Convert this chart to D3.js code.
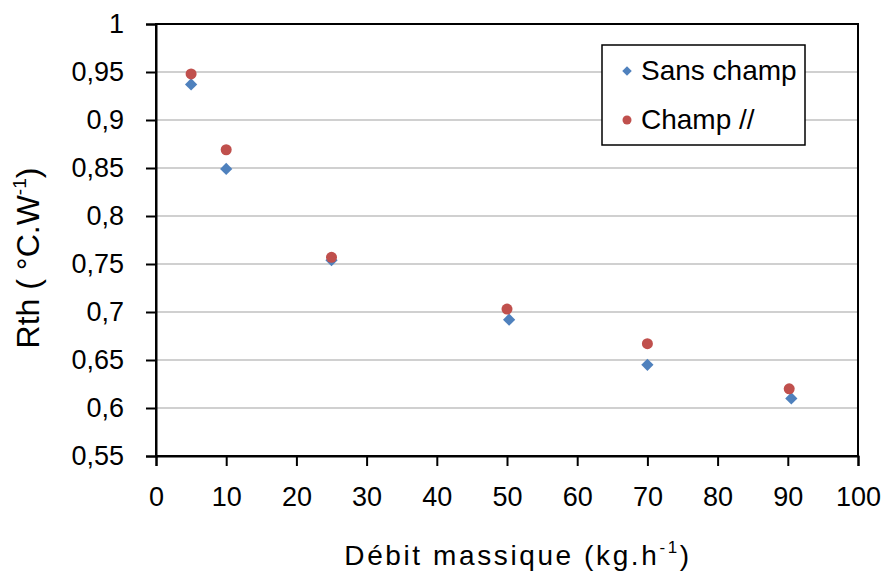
<!DOCTYPE html>
<html>
<head>
<meta charset="utf-8">
<script src="https://cdn.jsdelivr.net/npm/d3@7"></script>
<style>
  html, body { margin: 0; padding: 0; background: #fff; }
  svg { display: block; font-family: "Liberation Sans", Arial, sans-serif; }
</style>
</head>
<body>
<svg id="chart" width="886" height="573"></svg>
<script>
// Thermal resistance vs. mass flow rate
const sansChampX = [5, 10, 25, 50.3, 70, 90.5];
const sansChampY = [0.937, 0.849, 0.754, 0.692, 0.645, 0.610];
const champX = [5, 10, 25, 50, 70, 90.2];
const champY = [0.948, 0.869, 0.757, 0.703, 0.667, 0.620];

const xTicks = [0, 10, 20, 30, 40, 50, 60, 70, 80, 90, 100];
const yTicks = [0.55, 0.6, 0.65, 0.7, 0.75, 0.8, 0.85, 0.9, 0.95, 1];

const seriesNames = ["Sans champ", "Champ //"];
const blue = "#4f81bd", red = "#c0504d";

const svg = d3.select("#chart");
const plotLeft = 156, plotRight = 858, plotTop = 24, plotBottom = 456;

const x = d3.scaleLinear().domain([0, 100]).range([plotLeft, plotRight]);
const y = d3.scaleLinear().domain([0.55, 1]).range([plotBottom, plotTop]);

const fmt = v => String(+v.toFixed(2)).replace(".", ",");

// horizontal gridlines
svg.append("g").selectAll("line").data(yTicks.slice(1, -1)).join("line")
  .attr("x1", plotLeft).attr("x2", plotRight)
  .attr("y1", d => y(d)).attr("y2", d => y(d))
  .attr("stroke", "#c0c0c0").attr("stroke-width", 1.5);

// plot frame
svg.append("rect")
  .attr("x", plotLeft).attr("y", plotTop)
  .attr("width", plotRight - plotLeft).attr("height", plotBottom - plotTop)
  .attr("fill", "none").attr("stroke", "#000").attr("stroke-width", 2);

// y axis
const yAxis = svg.append("g").attr("transform", `translate(${plotLeft},0)`)
  .call(d3.axisLeft(y).tickValues(yTicks).tickFormat(fmt).tickSize(10).tickPadding(22));
yAxis.select(".domain").attr("stroke-width", 2);
yAxis.selectAll(".tick line").attr("stroke-width", 2);
yAxis.selectAll("text").attr("font-size", 27).attr("fill", "#000");

// x axis
const xAxis = svg.append("g").attr("transform", `translate(0,${plotBottom})`)
  .call(d3.axisBottom(x).tickValues(xTicks).tickFormat(d => d).tickSize(10).tickPadding(21));
xAxis.select(".domain").attr("stroke-width", 2);
xAxis.selectAll(".tick line").attr("stroke-width", 2);
xAxis.selectAll("text").attr("font-size", 27).attr("fill", "#000");

// markers
const diamond = d3.symbol().type(d3.symbolSquare).size(75);
svg.append("g").selectAll("path").data(sansChampX.map((v, i) => [v, sansChampY[i]])).join("path")
  .attr("d", diamond)
  .attr("transform", d => `translate(${x(d[0])},${y(d[1])}) rotate(45)`)
  .attr("fill", blue);

svg.append("g").selectAll("circle").data(champX.map((v, i) => [v, champY[i]])).join("circle")
  .attr("cx", d => x(d[0])).attr("cy", d => y(d[1])).attr("r", 5.5)
  .attr("fill", red);

// axis titles
const xt = svg.append("text")
  .attr("x", 518).attr("y", 565)
  .attr("text-anchor", "middle").attr("font-size", 28)
  .attr("letter-spacing", 2.6).attr("fill", "#000");
xt.append("tspan").text("Débit massique (kg.h");
xt.append("tspan").attr("font-size", 17).attr("dy", -12).text("-1");
xt.append("tspan").attr("dy", 12).text(")");

const yt = svg.append("text")
  .attr("transform", "translate(39,258) rotate(-90)")
  .attr("text-anchor", "middle").attr("font-size", 32)
  .attr("fill", "#000");
yt.append("tspan").text("Rth ( °C.W");
yt.append("tspan").attr("font-size", 19).attr("dy", -13).text("-1");
yt.append("tspan").attr("dy", 13).text(")");

// legend
const lg = svg.append("g");
lg.append("rect").attr("x", 602).attr("y", 45).attr("width", 203).attr("height", 100)
  .attr("fill", "#fff").attr("stroke", "#000").attr("stroke-width", 1.5);
lg.append("path").attr("d", d3.symbol().type(d3.symbolSquare).size(45))
  .attr("transform", "translate(627,71) rotate(45)").attr("fill", blue);
lg.append("circle").attr("cx", 627).attr("cy", 120).attr("r", 4.5).attr("fill", red);
lg.selectAll("text.leg").data(seriesNames).join("text").attr("class", "leg")
  .attr("x", 641).attr("y", (d, i) => 80 + i * 49)
  .attr("font-size", 28).attr("fill", "#000").text(d => d);
</script>
</body>
</html>
